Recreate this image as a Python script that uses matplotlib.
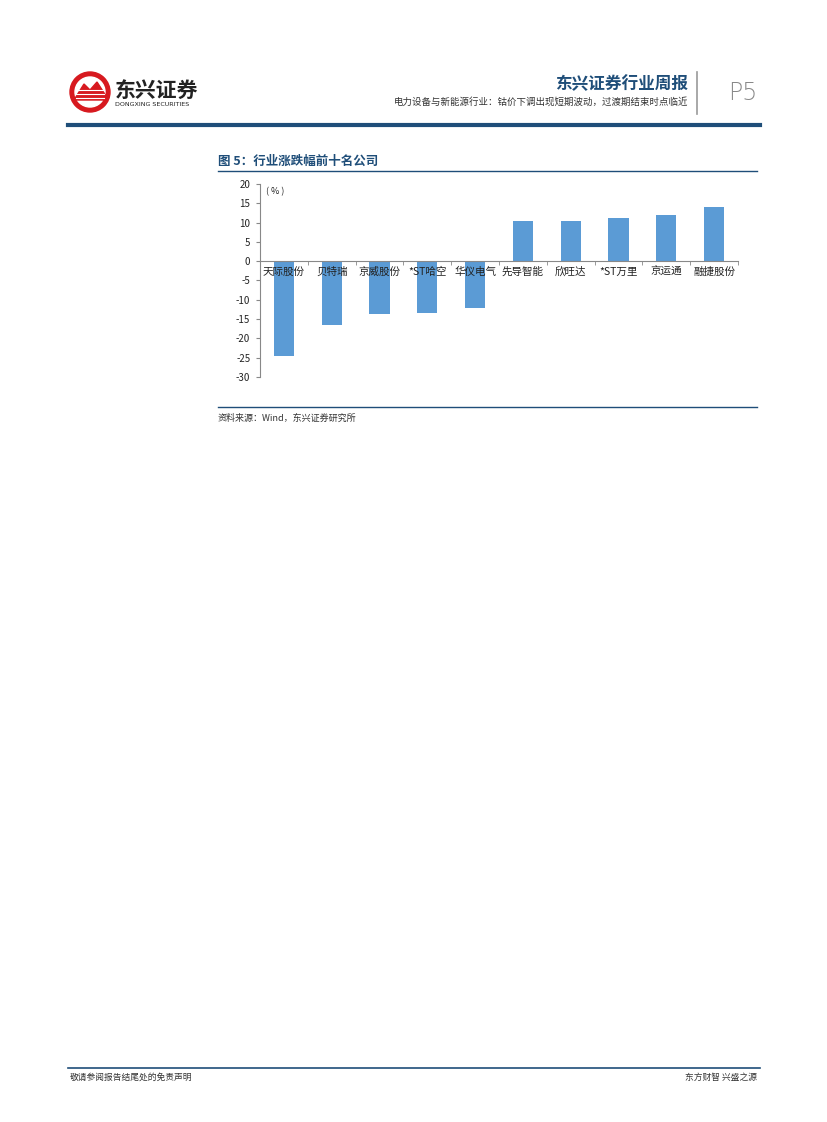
import numpy as np
import matplotlib
matplotlib.use("Agg")
import matplotlib.pyplot as plt
from matplotlib.patches import Circle, Polygon

plt.rcParams['font.family'] = ['Noto Sans CJK SC', 'DejaVu Sans']

# data (percent change)
companies = ['天际股份', '贝特瑞', '京威股份', '*ST哈空', '华仪电气',
             '先导智能', '欣旺达', '*ST万里', '京运通', '融捷股份']
changes = [-24.5, -16.4, -13.7, -13.3, -12.1, 10.3, 10.5, 11.2, 12.0, 14.1]
yticks = [20, 15, 10, 5, 0, -5, -10, -15, -20, -25, -30]

navy = '#1F4E79'
bar_color = '#5B9BD5'
W, H = 827, 1122

fig = plt.figure(figsize=(W / 100, H / 100), dpi=100)

# page overlay in pixel coordinates
page = fig.add_axes([0, 0, 1, 1])
page.set_xlim(0, W)
page.set_ylim(H, 0)
page.axis('off')

# logo
page.add_patch(Circle((90, 92), 20, color='#D7191F'))
page.add_patch(Circle((90, 92), 15, color='white'))
page.add_patch(Polygon([(74, 100), (84, 84), (90, 90), (97, 82), (106, 96),
                        (106, 100)], closed=True, color='#D7191F'))
for yy in (90, 94, 98):
    page.plot([76, 104], [yy, yy], color='white', lw=0.8)
page.text(115, 90, '东兴证券', fontsize=15, fontweight='heavy', color='#222222',
          va='center', ha='left')
page.text(115, 104, 'DONGXING SECURITIES', fontsize=4.6, color='#222222',
          va='center', ha='left', family='DejaVu Sans')

# header right
page.text(688, 84, '东兴证券行业周报', fontsize=12, fontweight='bold',
          color=navy, ha='right', va='center')
page.text(688, 102, '电力设备与新能源行业：钴价下调出现短期波动，过渡期结束时点临近',
          fontsize=6.8, color='#333333', ha='right', va='center')
page.plot([697, 697], [72, 114], color='#999999', lw=1.2)
page.text(743, 93, 'P5', fontsize=17, color='#888888', ha='center', va='center',
          family='DejaVu Sans', fontweight='light')
page.plot([68, 760], [125, 125], color=navy, lw=3)

# figure title and frame lines
page.text(218, 161, '图 5：行业涨跌幅前十名公司', fontsize=9, fontweight='bold',
          color=navy, ha='left', va='center')
page.plot([218, 757], [171, 171], color=navy, lw=1)
page.plot([218, 757], [407, 407], color=navy, lw=1)
page.text(218, 418, '资料来源：Wind，东兴证券研究所', fontsize=6.5, style='italic',
          color='#333333', ha='left', va='center')

# footer
page.plot([68, 760], [1068, 1068], color=navy, lw=1.2)
page.text(70, 1077, '敬请参阅报告结尾处的免责声明', fontsize=6.3, color='#333333',
          ha='left', va='center')
page.text(757, 1077, '东方财智 兴盛之源', fontsize=6.3, color='#333333',
          ha='right', va='center')

# chart
ax = fig.add_axes([260 / W, 1 - 377 / H, (738 - 260) / W, (377 - 184) / H])
x = np.arange(len(companies))
ax.bar(x, changes, width=0.42, color=bar_color, zorder=1)
ax.set_axisbelow(False)
ax.set_xlim(-0.5, len(companies) - 0.5)
ax.set_ylim(-30, 20)
ax.set_yticks(yticks)
ax.set_yticklabels([str(v) for v in yticks], fontsize=7, color='#222222')
ax.tick_params(axis='y', length=3, color='#888888', pad=4)

ax.spines['top'].set_visible(False)
ax.spines['right'].set_visible(False)
ax.spines['left'].set_color('#888888')
ax.spines['bottom'].set_position(('data', 0))
ax.spines['bottom'].set_color('#888888')

ax.set_xticks(x)
ax.set_xticklabels(companies, fontsize=7.6, color='#222222')
ax.tick_params(axis='x', which='major', length=0, pad=4)
ax.set_xticks(np.arange(len(companies) + 1) - 0.5, minor=True)
ax.tick_params(axis='x', which='minor', length=3, color='#888888')
ax.set_facecolor('none')
ax.text(0.012, 0.985, '( % )', transform=ax.transAxes, fontsize=6.5,
        ha='left', va='top', color='#222222')

fig.savefig('out.png', dpi=100)
